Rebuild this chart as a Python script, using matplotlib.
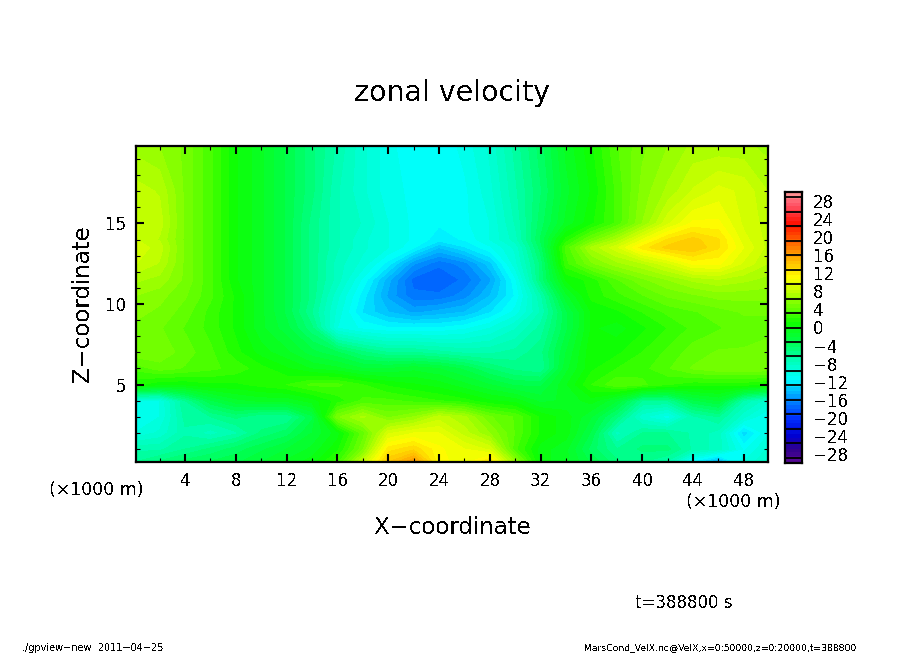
import numpy as np
import matplotlib
matplotlib.use("Agg")
import matplotlib.pyplot as plt
from matplotlib.colors import LinearSegmentedColormap, Normalize
from matplotlib.ticker import MultipleLocator

W, H = 904, 654

x_km = [0, 2, 4, 6, 8, 10, 12, 14, 16, 18, 20, 22, 24, 26, 28, 30, 32, 34, 36, 38, 40, 42, 44, 46, 48, 50]
z_km = [0.2, 1, 2, 3, 4, 5, 6, 7, 8.5, 9.5, 10.5, 11.5, 12.5, 13.5, 14, 15, 17, 19.8]

# zonal velocity, one row per z level (bottom to top)
velocity = [
    [-6, -5, -4, -3.5, -3, -2, -1, 0, 2.5, 8, 14, 16.5, 11, 10.5, 12.5, 6, 0, -1, -3, -5, -6, -7, -12, -15, -10, -8],
    [-7, -7, -6, -5, -4, -3, -2, -1, 1, 5, 12, 13, 11, 10, 9, 3, 0, -1, -4, -6, -5, -5, -7, -8, -11, -9],
    [-10, -9, -7, -8, -7, -5, -4, -2, 0, 4, 9, 10, 10, 8, 6, 3.5, 1, 0, -3, -8, -6, -6, -7, -8, -13, -10],
    [-11, -10, -6.5, -6, -5, -6, -6, -3, 5, 7, 5, 6, 8, 7, 4.5, 3.5, 1, 0, -2, -5, -9, -10.5, -7, -6, -9, -11],
    [-10, -10, -6, -3, -1.5, -1, -1, 0, 1.5, 3, 3, 2.5, 2, 1.5, 0.5, 0, -1.5, -1, 0, -2, -6, -6, -3, -2, -7, -9],
    [1.5, 0.5, 0.5, 1, 1, 1.5, 2, 3, 3, 2, 1, 0.5, 0, -1, -2, -3, -3, -0.5, 2, 3.5, 3, 2, 1.5, 1.5, 1.5, 1],
    [3, 4, 3.5, 3, 2.5, 1.5, 0.5, -0.5, -1, -2, -2, -1.5, -2, -3, -4.5, -5.5, -6, -1.5, 1, 2, 2.5, 3.5, 4.5, 5, 5, 5],
    [5, 5, 4, 3, 1.5, 0, -1, -2.5, -3.5, -5, -6, -6, -6.5, -7, -7, -6.5, -5.5, -2, 1, 1, 2, 3, 4, 4.5, 4.5, 5],
    [5, 4.5, 3.5, 2.5, 1, -1, -2.5, -5, -10, -11, -11.5, -11.5, -11.5, -11, -10, -8.5, -6.5, -3, 0.5, 0, 1, 2, 3, 3.5, 4, 4],
    [5.5, 5, 4, 2.5, 1, -1, -3, -6, -9.5, -12.5, -14, -15, -14.5, -14, -12.5, -10.5, -7.5, -3, 0.5, 1, 2, 3, 3.5, 4, 4.5, 4.5],
    [6, 5.5, 4.5, 3, 1, -1, -3, -5.5, -9, -12, -15, -17, -17, -16, -14, -11.5, -7, -1.5, 1.5, 2.5, 3.5, 4.5, 5, 5.5, 5.5, 5.5],
    [7, 6.5, 5, 3, 0.5, -1, -3, -5.5, -8, -11, -14.5, -17.5, -18, -17, -15, -11, -5, 0.5, 1.5, 3.5, 5, 6, 7, 7.5, 7, 6.5],
    [8.5, 7.5, 5, 3, 0.5, -1, -3, -5.5, -8, -9.5, -12, -15.5, -17, -16, -13.5, -9.5, -5, 2.5, 5, 6.5, 7.5, 9, 11, 11, 9, 7.5],
    [9, 8, 5, 3, 0.5, -1, -3, -5.5, -7.5, -9, -10, -11.5, -14, -12.5, -11, -9, -4, 3, 7, 9, 12, 13.5, 14, 12.5, 10, 8],
    [8.5, 7.5, 5, 3, 0.5, -1, -3, -5.5, -7.5, -9, -10, -11, -12, -11.5, -10, -8, -3.5, 1.5, 4.5, 7, 10, 12.5, 13.5, 12.5, 9.5, 8],
    [8.5, 8, 5, 3, 0.5, -1, -3, -5.5, -7.5, -8.5, -10, -11, -11.5, -11, -10, -7.5, -4, -1, 1, 3, 6, 9, 11, 11, 9, 8],
    [8, 7.5, 5, 3, 0.5, -1, -3, -5, -7.5, -9, -10.5, -11, -11, -11, -9.5, -7, -4.5, -1.5, 0.5, 3, 5.5, 7, 8.5, 9.5, 9, 7.5],
    [6.5, 6, 5, 3, 0.5, -1, -3, -5, -7, -9, -10.5, -11.5, -11.5, -10.5, -9, -6.5, -4, -1, 1, 3.5, 5, 6, 7, 7, 7, 6.5],
]

x_ticks = [4, 8, 12, 16, 20, 24, 28, 32, 36, 40, 44, 48]
z_ticks = [5, 10, 15]
bar_ticks = [28, 24, 20, 16, 12, 8, 4, 0, -4, -8, -12, -16, -20, -24, -28]

cmap_vals = [-30, -27, -24, -20, -16, -11.5, -7, -3, 1, 4, 8, 11, 15, 19, 23, 27, 30]
cmap_cols = ["#5a0a96", "#30008c", "#0000d2", "#0032ff", "#008cff", "#00ffff", "#00ffb0",
             "#00ff48", "#10ff00", "#60ff00", "#c0ff00", "#ffff00", "#ffb400", "#ff6400",
             "#ff1000", "#ff5064", "#ff9696"]

plt.rcParams['font.family'] = 'DejaVu Sans'
plt.rcParams['text.antialiased'] = False

norm = Normalize(-30, 30)
cmap = LinearSegmentedColormap.from_list(
    "rainbow_dcl", [((v + 30) / 60, c) for v, c in zip(cmap_vals, cmap_cols)], N=512)
levels = np.arange(-30, 30.01, 0.8)


def px_axes(left, top, right, bottom):
    return fig.add_axes([left / W, 1 - bottom / H, (right - left) / W, (bottom - top) / H])


def px_text(x, y, s, **kw):
    kw.setdefault('ha', 'center')
    kw.setdefault('va', 'center')
    fig.text(x / W, 1 - y / H, s, **kw)


fig = plt.figure(figsize=(W / 100, H / 100), dpi=100)

ax = px_axes(136, 146, 768, 462)
ax.contourf(x_km, z_km, np.array(velocity), levels=levels, cmap=cmap, norm=norm, antialiased=False)
ax.set_xlim(0.14, 49.9)
ax.set_ylim(0.2, 19.8)
ax.set_xticks(x_ticks)
ax.set_yticks(z_ticks)
ax.xaxis.set_minor_locator(MultipleLocator(2))
ax.yaxis.set_minor_locator(MultipleLocator(1))
ax.tick_params(which='major', direction='in', top=True, right=True, length=6, width=1.5, labelsize=12, pad=7)
ax.tick_params(which='minor', direction='in', top=True, right=True, length=3, width=0.8)
for s in ax.spines.values():
    s.set_linewidth(1.6)

# colour bar, the box edges do not line up with the labels in the original
cax = px_axes(785, 192, 802, 463)
cax.contourf([0, 1], levels, np.array([levels, levels]).T, levels=levels, cmap=cmap, norm=norm, antialiased=False)
cax.set_xlim(0, 1)
cax.set_ylim(-30, 30)
cax.set_xticks([])
cax.yaxis.tick_right()
cax.set_yticks(bar_ticks)
cax.set_yticklabels([str(t).replace('-', '\u2212') for t in bar_ticks])
cax.tick_params(axis='y', length=0, labelsize=12, pad=8)
for v in np.linspace(-28.8, 28.8, 19):
    cax.axhline(v, color='black', lw=1.3)
for s in cax.spines.values():
    s.set_linewidth(1.6)

px_text(452, 93, "zonal velocity", fontsize=20.5)
px_text(453, 528, "X\u2212coordinate", fontsize=16.5)
px_text(83, 304, "Z\u2212coordinate", fontsize=16.5, rotation=90)
px_text(96, 490, "(\u00d71000 m)", fontsize=12.5)
px_text(733, 502, "(\u00d71000 m)", fontsize=12.5)
px_text(684, 603, "t=388800 s", fontsize=12)
px_text(22, 648, "./gpview\u2212new  2011\u221204\u221225", fontsize=7, ha='left')
px_text(584, 648, "MarsCond_VelX.nc@VelX,x=0:50000,z=0:20000,t=388800", fontsize=6.7, ha='left')

fig.savefig("out.png", dpi=100)
